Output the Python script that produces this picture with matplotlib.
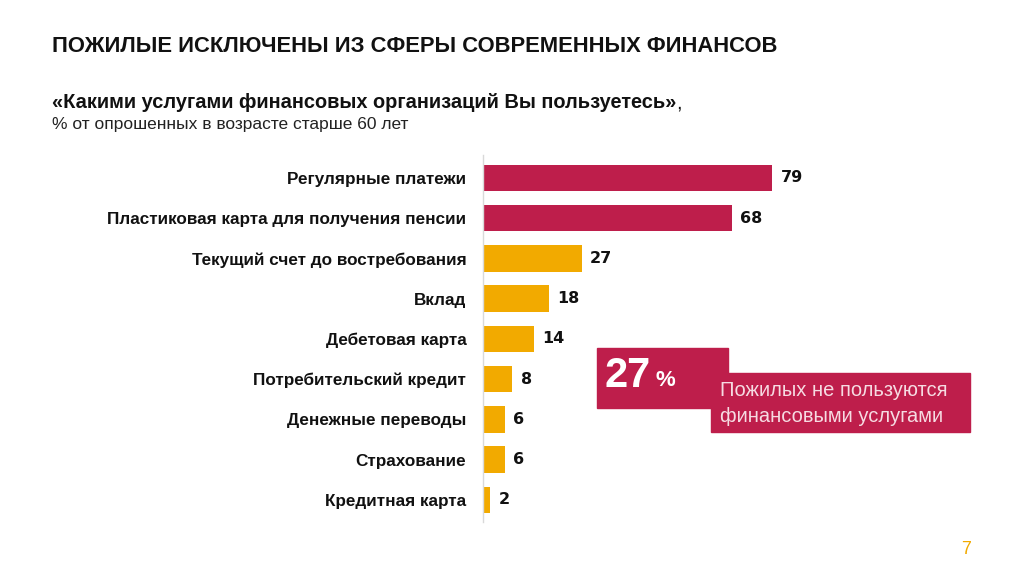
import matplotlib.pyplot as plt
from matplotlib.patches import Rectangle

plt.rcParams['font.family'] = ['Liberation Sans', 'DejaVu Sans']

categories = ['Регулярные платежи', 'Пластиковая карта для получения пенсии',
              'Текущий счет до востребования', 'Вклад', 'Дебетовая карта',
              'Потребительский кредит', 'Денежные переводы', 'Страхование',
              'Кредитная карта']
values = [79, 68, 27, 18, 14, 8, 6, 6, 2]
highlight = [True, True, False, False, False, False, False, False, False]

red = '#BE1E4B'
gold = '#F2AA00'
W, H = 1024, 576

fig = plt.figure(figsize=(W / 100, H / 100), dpi=100)
fig.patch.set_facecolor('white')

# axes placed in pixels: left edge at x=483, rows from y=155 to y=522
ax = fig.add_axes([483 / W, (H - 522) / H, 366 / W, 367 / H])
ypos = list(range(len(values)))
colors = [red if h else gold for h in highlight]
ax.barh(ypos, values, height=0.66, color=colors)
ax.set_xlim(0, 100)
ax.set_ylim(8.55, -0.57)
for y, v in zip(ypos, values):
    ax.text(v + 2.3, y, str(v), va='center', ha='left', fontsize=11.5,
            fontweight='bold', color='#111111', family='DejaVu Sans')
ax.set_yticks(ypos)
ax.set_yticklabels(categories, fontsize=12.3, fontweight='bold', color='#111111')
ax.tick_params(axis='y', length=0, pad=12)
ax.set_xticks([])
for s in ['top', 'right', 'bottom']:
    ax.spines[s].set_visible(False)
ax.spines['left'].set_color('#d9d9d9')
ax.spines['left'].set_linewidth(1)

# titles
fig.text(52 / W, 1 - 46 / H, 'ПОЖИЛЫЕ ИСКЛЮЧЕНЫ ИЗ СФЕРЫ СОВРЕМЕННЫХ ФИНАНСОВ',
         fontsize=15.8, fontweight='bold', va='center', ha='left', color='#111111')
t1 = fig.text(52 / W, 1 - 103 / H, '«Какими услугами финансовых организаций Вы пользуетесь»',
              fontsize=14.4, fontweight='bold', va='center', ha='left', color='#111111')
fig.canvas.draw()
bb = t1.get_window_extent()
fig.text(bb.x1 / W, 1 - 103 / H, ',', fontsize=14.4, va='center', ha='left',
         color='#111111')
fig.text(52 / W, 1 - 124 / H, '% от опрошенных в возрасте старше 60 лет',
         fontsize=12.5, va='center', ha='left', color='#222222')

# callout boxes
fig.patches.append(Rectangle((597 / W, 1 - 408 / H), 131 / W, 60 / H,
                             transform=fig.transFigure, color=red, zorder=1))
fig.patches.append(Rectangle((711 / W, 1 - 432 / H), 259 / W, 59 / H,
                             transform=fig.transFigure, color=red, zorder=1))
fig.text(604 / W, 1 - 376 / H, '27', fontsize=30, fontweight='bold',
         color='white', va='center', ha='left')
fig.text(656 / W, 1 - 381 / H, '%', fontsize=16, fontweight='bold',
         color='white', va='center', ha='left')
fig.text(720 / W, 1 - 391 / H, 'Пожилых не пользуются', fontsize=14.5,
         color='#f6dbe2', va='center', ha='left')
fig.text(720 / W, 1 - 417 / H, 'финансовыми услугами', fontsize=14.5,
         color='#f6dbe2', va='center', ha='left')

fig.text(966 / W, 1 - 549 / H, '7', fontsize=13, color=gold, va='center', ha='center')

fig.savefig('out.png', dpi=100)
